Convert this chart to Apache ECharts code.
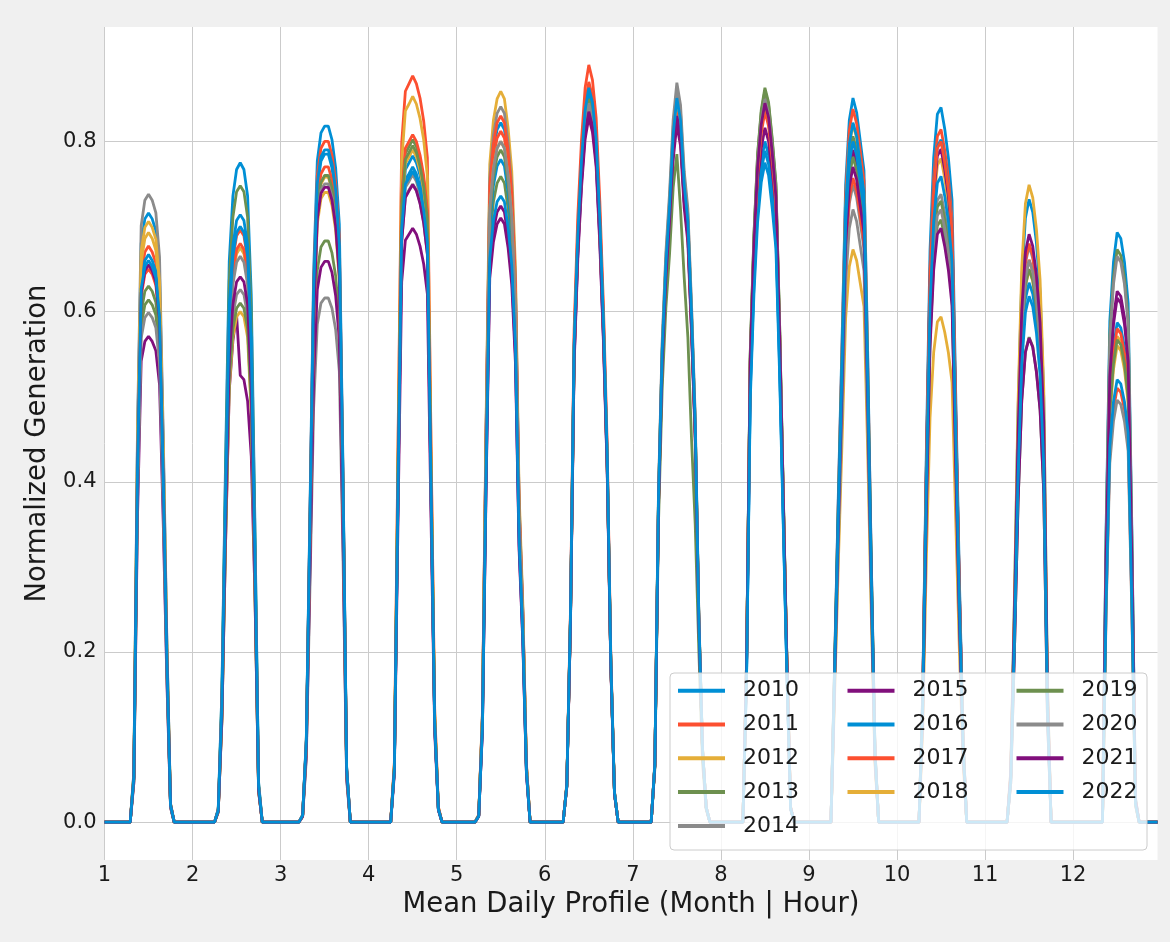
<!DOCTYPE html>
<html>
<head>
<meta charset="utf-8">
<title>Mean Daily Profile</title>
<script src="https://cdn.jsdelivr.net/npm/echarts@6/dist/echarts.min.js"></script>
<style>
  html, body { margin: 0; padding: 0; background: #f0f0f0; }
  #container { width: 1170px; height: 942px; }
</style>
</head>
<body>
<div id="container"></div>
<script>
// normalized generation in per-mille, one row per month (Jan..Dec),
// each row starts at firstHour[month] and is zero outside the row
var years = ['2010', '2011', '2012', '2013', '2014', '2015', '2016', '2017', '2018', '2019', '2020', '2021', '2022'];
var firstHour = [8, 7, 6, 7, 6, 6, 6, 7, 7, 7, 7, 9];
var monthTicks = [1, 2, 3, 4, 5, 6, 7, 8, 9, 10, 11, 12];

var gen2010 = [
  [57, 451, 680, 709, 716, 709, 695, 644, 444, 208, 21],
  [16, 155, 426, 659, 736, 767, 775, 767, 736, 620, 349, 47],
  [8, 98, 368, 646, 777, 810, 818, 818, 802, 769, 703, 417, 65],
  [62, 393, 701, 755, 762, 770, 762, 747, 724, 685, 393, 116, 15],
  [8, 123, 452, 740, 789, 814, 822, 814, 781, 732, 625, 370, 247, 66],
  [43, 241, 559, 688, 774, 834, 860, 843, 800, 705, 585, 430, 189, 34],
  [68, 383, 553, 655, 723, 808, 850, 825, 748, 706, 595, 468, 238, 85, 17],
  [176, 512, 640, 728, 776, 800, 784, 744, 696, 544, 360, 176, 16],
  [187, 383, 562, 749, 825, 851, 834, 800, 766, 553, 306, 85],
  [151, 437, 672, 781, 832, 840, 815, 781, 731, 504, 286, 101],
  [59, 256, 483, 637, 710, 732, 717, 681, 622, 498, 161],
  [347, 589, 658, 693, 686, 658, 610, 347, 28]
];
var gen2011 = [
  [54, 427, 643, 670, 677, 670, 657, 609, 420, 196, 20],
  [14, 139, 383, 592, 661, 689, 696, 689, 661, 557, 313, 42],
  [8, 96, 360, 632, 760, 792, 800, 800, 784, 752, 688, 408, 64],
  [70, 447, 798, 859, 868, 877, 868, 851, 824, 781, 447, 132, 18],
  [8, 122, 447, 731, 780, 804, 812, 804, 771, 723, 617, 365, 244, 65],
  [45, 249, 579, 712, 801, 863, 890, 872, 828, 730, 605, 445, 196, 36],
  [68, 380, 549, 651, 718, 803, 845, 820, 744, 701, 592, 465, 237, 85, 17],
  [185, 538, 672, 764, 815, 840, 823, 781, 731, 571, 378, 185, 17],
  [184, 377, 553, 737, 813, 838, 821, 788, 754, 545, 302, 84],
  [147, 423, 651, 757, 806, 814, 790, 757, 708, 488, 277, 98],
  [53, 231, 436, 575, 641, 661, 648, 615, 562, 449, 145],
  [255, 434, 485, 510, 505, 485, 449, 255, 20]
];
var gen2012 = [
  [55, 437, 658, 686, 693, 686, 672, 624, 430, 201, 21],
  [14, 135, 371, 574, 641, 668, 675, 668, 641, 540, 304, 41],
  [8, 91, 341, 599, 720, 750, 758, 758, 743, 713, 652, 387, 61],
  [68, 435, 776, 836, 844, 853, 844, 827, 802, 759, 435, 128, 17],
  [9, 129, 472, 773, 825, 850, 859, 850, 816, 765, 653, 387, 258, 69],
  [43, 238, 553, 680, 765, 825, 850, 833, 791, 697, 578, 425, 187, 34],
  [67, 378, 546, 647, 714, 798, 840, 815, 739, 697, 588, 462, 235, 84, 17],
  [187, 544, 680, 774, 825, 850, 833, 791, 740, 578, 383, 187, 17],
  [180, 369, 541, 722, 795, 820, 804, 771, 738, 533, 295, 82],
  [140, 406, 624, 725, 772, 780, 757, 725, 679, 468, 265, 94],
  [52, 227, 428, 565, 630, 649, 636, 604, 552, 441, 143],
  [286, 485, 542, 571, 565, 542, 502, 286, 23]
];
var gen2013 = [
  [49, 387, 583, 608, 614, 608, 596, 553, 381, 178, 18],
  [15, 150, 411, 636, 711, 741, 748, 741, 711, 598, 337, 45],
  [7, 82, 307, 540, 649, 676, 683, 683, 669, 642, 587, 348, 55],
  [64, 409, 730, 786, 794, 802, 794, 778, 754, 714, 409, 120, 16],
  [8, 114, 417, 683, 729, 751, 759, 751, 721, 676, 577, 342, 228, 61],
  [42, 237, 549, 676, 761, 820, 845, 828, 786, 693, 575, 423, 186, 34],
  [66, 374, 540, 639, 706, 789, 830, 805, 730, 689, 581, 457, 232, 83, 17],
  [190, 552, 690, 785, 837, 863, 846, 803, 751, 587, 388, 190, 17],
  [177, 363, 532, 709, 782, 806, 790, 758, 725, 524, 290, 81],
  [127, 368, 566, 658, 701, 708, 687, 658, 616, 425, 241, 85],
  [46, 200, 376, 496, 553, 570, 559, 530, 485, 388, 125],
  [337, 572, 639, 673, 666, 639, 592, 337, 27]
];
var gen2014 = [
  [59, 465, 701, 731, 738, 731, 716, 664, 458, 214, 22],
  [13, 125, 344, 532, 595, 620, 626, 620, 595, 501, 282, 38],
  [6, 74, 277, 487, 585, 610, 616, 616, 604, 579, 530, 314, 49],
  [61, 388, 693, 746, 753, 761, 753, 738, 715, 677, 388, 114, 15],
  [8, 126, 463, 757, 807, 833, 841, 833, 799, 748, 639, 378, 252, 67],
  [42, 235, 546, 672, 756, 815, 840, 823, 781, 689, 571, 420, 185, 34],
  [70, 391, 565, 669, 739, 826, 869, 843, 765, 721, 608, 478, 243, 87, 17],
  [188, 547, 684, 778, 829, 855, 838, 795, 744, 581, 385, 188, 17],
  [165, 337, 494, 659, 727, 749, 734, 704, 674, 487, 270, 75],
  [133, 384, 590, 686, 731, 738, 716, 686, 642, 443, 251, 89],
  [54, 237, 447, 589, 657, 677, 663, 630, 575, 460, 149],
  [248, 422, 471, 496, 491, 471, 436, 248, 20]
];
var gen2015 = [
  [46, 360, 542, 565, 571, 565, 554, 514, 354, 166, 17],
  [12, 119, 328, 507, 566, 596, 525, 520, 495, 430, 268, 36],
  [7, 79, 297, 521, 626, 652, 659, 659, 646, 619, 567, 336, 53],
  [56, 356, 635, 684, 691, 698, 691, 677, 656, 621, 356, 105, 14],
  [7, 107, 391, 639, 682, 703, 710, 703, 675, 632, 540, 320, 213, 57],
  [41, 232, 538, 662, 745, 803, 828, 811, 770, 679, 563, 414, 182, 33],
  [66, 369, 533, 631, 697, 779, 820, 795, 722, 681, 574, 451, 230, 82, 16],
  [180, 522, 653, 743, 792, 816, 800, 759, 710, 555, 367, 180, 16],
  [174, 356, 521, 695, 766, 790, 774, 743, 711, 514, 284, 79],
  [142, 411, 633, 736, 783, 791, 767, 736, 688, 475, 269, 95],
  [46, 199, 376, 495, 552, 569, 558, 529, 484, 387, 125],
  [312, 530, 593, 624, 618, 593, 549, 312, 25]
];
var gen2016 = [
  [53, 420, 634, 660, 667, 660, 647, 600, 414, 193, 20],
  [14, 143, 393, 607, 678, 707, 714, 707, 678, 571, 321, 43],
  [8, 94, 353, 620, 746, 777, 785, 785, 769, 738, 675, 400, 63],
  [63, 399, 713, 767, 775, 783, 775, 760, 736, 697, 399, 117, 16],
  [8, 117, 428, 701, 748, 771, 779, 771, 740, 693, 592, 351, 234, 62],
  [43, 239, 556, 684, 770, 829, 855, 838, 795, 701, 581, 428, 188, 34],
  [67, 378, 546, 647, 714, 798, 840, 815, 739, 697, 588, 462, 235, 84, 17],
  [174, 505, 631, 718, 765, 789, 773, 734, 686, 537, 355, 174, 16],
  [181, 370, 543, 723, 797, 822, 806, 773, 740, 534, 296, 82],
  [144, 417, 642, 746, 794, 802, 778, 746, 698, 481, 273, 96],
  [51, 222, 418, 552, 615, 634, 621, 590, 539, 431, 139],
  [294, 499, 558, 587, 581, 558, 517, 294, 23]
];
var gen2017 = [
  [52, 410, 618, 644, 650, 644, 631, 585, 403, 189, 20],
  [14, 136, 374, 578, 646, 673, 680, 673, 646, 544, 306, 41],
  [8, 92, 347, 608, 732, 762, 770, 770, 755, 724, 662, 393, 62],
  [65, 412, 735, 792, 800, 808, 800, 784, 760, 719, 412, 121, 16],
  [8, 125, 457, 747, 797, 822, 830, 822, 789, 739, 631, 374, 249, 66],
  [44, 244, 566, 696, 783, 844, 870, 853, 809, 713, 592, 435, 191, 35],
  [67, 376, 543, 643, 710, 793, 835, 810, 735, 693, 585, 459, 234, 84, 17],
  [184, 534, 668, 760, 810, 835, 818, 777, 726, 568, 376, 184, 17],
  [167, 341, 500, 666, 734, 757, 742, 712, 681, 492, 273, 76],
  [144, 416, 640, 744, 792, 800, 776, 744, 696, 480, 272, 96],
  [54, 238, 449, 592, 660, 680, 666, 632, 578, 462, 150],
  [290, 493, 551, 580, 574, 551, 510, 290, 23]
];
var gen2018 = [
  [56, 445, 671, 699, 706, 699, 685, 635, 438, 205, 21],
  [12, 120, 330, 510, 570, 594, 600, 594, 570, 480, 270, 36],
  [7, 89, 333, 585, 703, 733, 740, 740, 725, 696, 636, 377, 59],
  [63, 403, 719, 774, 782, 790, 782, 766, 743, 703, 403, 119, 16],
  [8, 120, 440, 720, 768, 792, 800, 792, 760, 712, 608, 360, 240, 64],
  [42, 237, 549, 676, 761, 820, 845, 828, 786, 693, 575, 423, 186, 34],
  [68, 383, 553, 655, 723, 808, 850, 825, 748, 706, 595, 468, 238, 85, 17],
  [186, 541, 676, 769, 820, 845, 828, 786, 735, 575, 380, 186, 17],
  [148, 303, 444, 592, 653, 673, 660, 633, 606, 437, 242, 67],
  [107, 309, 475, 552, 588, 594, 576, 552, 517, 356, 202, 71],
  [60, 262, 494, 652, 727, 749, 734, 697, 637, 509, 165],
  [280, 476, 532, 560, 554, 532, 493, 280, 22]
];
var gen2019 = [
  [50, 397, 599, 624, 630, 624, 611, 567, 391, 183, 19],
  [12, 122, 336, 519, 580, 604, 610, 604, 580, 488, 275, 37],
  [8, 91, 342, 600, 722, 752, 760, 760, 745, 714, 654, 388, 61],
  [64, 405, 723, 779, 787, 795, 787, 771, 747, 708, 405, 119, 16],
  [8, 119, 435, 711, 758, 782, 790, 782, 751, 703, 600, 356, 237, 63],
  [43, 238, 553, 680, 765, 825, 850, 833, 791, 697, 578, 425, 187, 34],
  [63, 353, 510, 604, 667, 746, 785, 720, 640, 570, 450, 350, 200, 70, 15],
  [189, 550, 688, 783, 834, 860, 843, 800, 748, 585, 387, 189, 17],
  [172, 352, 516, 688, 759, 782, 766, 735, 704, 508, 282, 78],
  [131, 380, 584, 679, 723, 730, 708, 679, 635, 438, 248, 88],
  [52, 228, 429, 566, 631, 650, 637, 605, 553, 442, 143],
  [284, 482, 539, 567, 561, 539, 499, 284, 23]
];
var gen2020 = [
  [48, 377, 569, 593, 599, 593, 581, 539, 371, 174, 18],
  [13, 133, 366, 565, 632, 658, 665, 658, 632, 532, 299, 40],
  [8, 90, 338, 593, 713, 743, 750, 750, 735, 705, 645, 383, 60],
  [60, 383, 683, 735, 743, 750, 743, 728, 705, 668, 383, 113, 15],
  [8, 120, 440, 720, 768, 792, 800, 792, 760, 712, 608, 360, 240, 64],
  [42, 237, 549, 676, 761, 820, 845, 828, 786, 693, 575, 423, 186, 34],
  [69, 387, 559, 662, 731, 817, 860, 834, 757, 714, 602, 473, 241, 86, 17],
  [187, 544, 680, 774, 825, 850, 833, 791, 740, 578, 383, 187, 17],
  [158, 324, 475, 634, 698, 720, 706, 677, 648, 468, 259, 72],
  [130, 374, 576, 670, 713, 720, 698, 670, 626, 432, 245, 86],
  [53, 231, 436, 574, 640, 660, 647, 614, 561, 449, 145],
  [333, 565, 632, 665, 658, 632, 585, 333, 27]
];
var gen2021 = [
  [52, 413, 622, 648, 655, 648, 635, 590, 406, 190, 20],
  [13, 128, 353, 545, 609, 635, 641, 635, 609, 513, 288, 38],
  [7, 90, 336, 589, 709, 739, 746, 746, 731, 701, 642, 380, 60],
  [60, 382, 682, 734, 742, 749, 742, 727, 704, 667, 382, 112, 15],
  [7, 109, 398, 652, 695, 717, 724, 717, 688, 644, 550, 326, 217, 58],
  [42, 234, 543, 668, 752, 810, 835, 818, 777, 685, 568, 418, 184, 33],
  [66, 374, 540, 639, 706, 789, 830, 805, 730, 689, 581, 457, 232, 83, 17],
  [186, 541, 676, 769, 820, 845, 828, 786, 735, 575, 380, 186, 17],
  [169, 347, 508, 678, 747, 770, 755, 724, 693, 501, 277, 77],
  [126, 363, 558, 649, 691, 698, 677, 649, 607, 419, 237, 84],
  [55, 242, 456, 601, 670, 691, 677, 643, 587, 470, 152],
  [308, 524, 585, 616, 610, 585, 542, 308, 25]
];
var gen2022 = [
  [53, 416, 627, 653, 660, 653, 640, 594, 409, 191, 20],
  [14, 140, 385, 595, 665, 693, 700, 693, 665, 560, 315, 42],
  [8, 95, 356, 624, 751, 782, 790, 790, 774, 743, 679, 403, 63],
  [61, 390, 696, 750, 757, 765, 757, 742, 719, 681, 390, 115, 15],
  [7, 110, 405, 662, 707, 729, 736, 729, 699, 655, 559, 331, 221, 59],
  [43, 242, 561, 690, 777, 837, 863, 846, 803, 708, 587, 432, 190, 35],
  [68, 383, 553, 655, 723, 808, 851, 825, 749, 706, 596, 468, 238, 85, 17],
  [171, 496, 620, 705, 752, 775, 760, 721, 674, 527, 349, 171, 16],
  [176, 360, 528, 704, 776, 800, 784, 752, 720, 520, 288, 80],
  [137, 395, 607, 706, 751, 759, 736, 706, 660, 455, 258, 91],
  [49, 216, 408, 538, 599, 618, 606, 575, 525, 420, 136],
  [260, 442, 494, 520, 515, 494, 458, 260, 21]
];

var allYears = [gen2010, gen2011, gen2012, gen2013, gen2014, gen2015, gen2016,
                gen2017, gen2018, gen2019, gen2020, gen2021, gen2022];

// fivethirtyeight colour cycle
var palette = ['#008fd5', '#fc4f30', '#e5ae38', '#6d904f', '#8b8b8b', '#810f7c'];

// month + hour/24 on x, 24 points per month
function toPoints(rows) {
  var pts = [];
  for (var m = 0; m < 12; m++) {
    for (var h = 0; h < 24; h++) {
      var i = h - firstHour[m];
      var v = (i >= 0 && i < rows[m].length) ? rows[m][i] / 1000 : 0;
      pts.push([monthTicks[m] + h / 24, v]);
    }
  }
  return pts;
}

var series = years.map(function (y, k) {
  return {
    name: y,
    type: 'line',
    data: toPoints(allYears[k]),
    showSymbol: false,
    symbol: 'none',
    color: palette[k % palette.length],
    lineStyle: { width: 2.8 },
    emphasis: { disabled: true }
  };
});

var textColor = '#1a1a1a';
var legendCols = [[0, 5, 678], [5, 9, 847.5], [9, 13, 1016.5]];
var legends = legendCols.map(function (c) {
  return {
    orient: 'vertical',
    left: c[2],
    top: 679.7,
    padding: 0,
    icon: 'rect',
    itemWidth: 47,
    itemHeight: 4,
    itemGap: 11.8,
    data: years.slice(c[0], c[1]),
    textStyle: { fontSize: 22, lineHeight: 22, color: textColor, fontFamily: 'DejaVu Sans', padding: [0, 0, 0, 13] },
    z: 5
  };
});

var dom = document.getElementById('container');
var myChart = echarts.init(dom);
var option = {
  backgroundColor: '#f0f0f0',
  animation: false,
  textStyle: { fontFamily: 'DejaVu Sans' },
  grid: {
    left: 104.5, right: 12.5, top: 27, bottom: 82,
    show: true, backgroundColor: '#ffffff', borderWidth: 0
  },
  xAxis: {
    type: 'value',
    min: 1,
    max: 12 + 23 / 24,
    interval: 1,
    name: 'Mean Daily Profile (Month | Hour)',
    nameLocation: 'middle',
    nameGap: 31,
    nameTextStyle: { fontSize: 27.5, color: textColor },
    axisLine: { show: false },
    axisTick: { show: false },
    axisLabel: { fontSize: 21, color: textColor, margin: 5, showMaxLabel: false,
      formatter: function (v) { return String(v); } },
    splitLine: { show: true, showMaxLine: false, lineStyle: { color: '#cbcbcb', width: 1 } }
  },
  yAxis: {
    type: 'value',
    min: -0.0445,
    max: 0.9345,
    splitNumber: 5,
    name: 'Normalized Generation',
    nameLocation: 'middle',
    nameGap: 52,
    nameTextStyle: { fontSize: 27.5, color: textColor },
    axisLine: { show: false },
    axisTick: { show: false },
    axisLabel: { fontSize: 21, color: textColor, margin: 8, showMinLabel: false, showMaxLabel: false,
      formatter: function (v) { return v.toFixed(1); } },
    splitLine: { show: true, showMinLine: false, showMaxLine: false, lineStyle: { color: '#cbcbcb', width: 1 } }
  },
  legend: legends,
  graphic: [{
    type: 'rect',
    z: 4,
    shape: { x: 670, y: 673, width: 477, height: 177, r: 4 },
    style: { fill: 'rgba(255,255,255,0.8)', stroke: '#cccccc', lineWidth: 1 }
  }],
  series: series
};
myChart.setOption(option);
</script>
</body>
</html>
